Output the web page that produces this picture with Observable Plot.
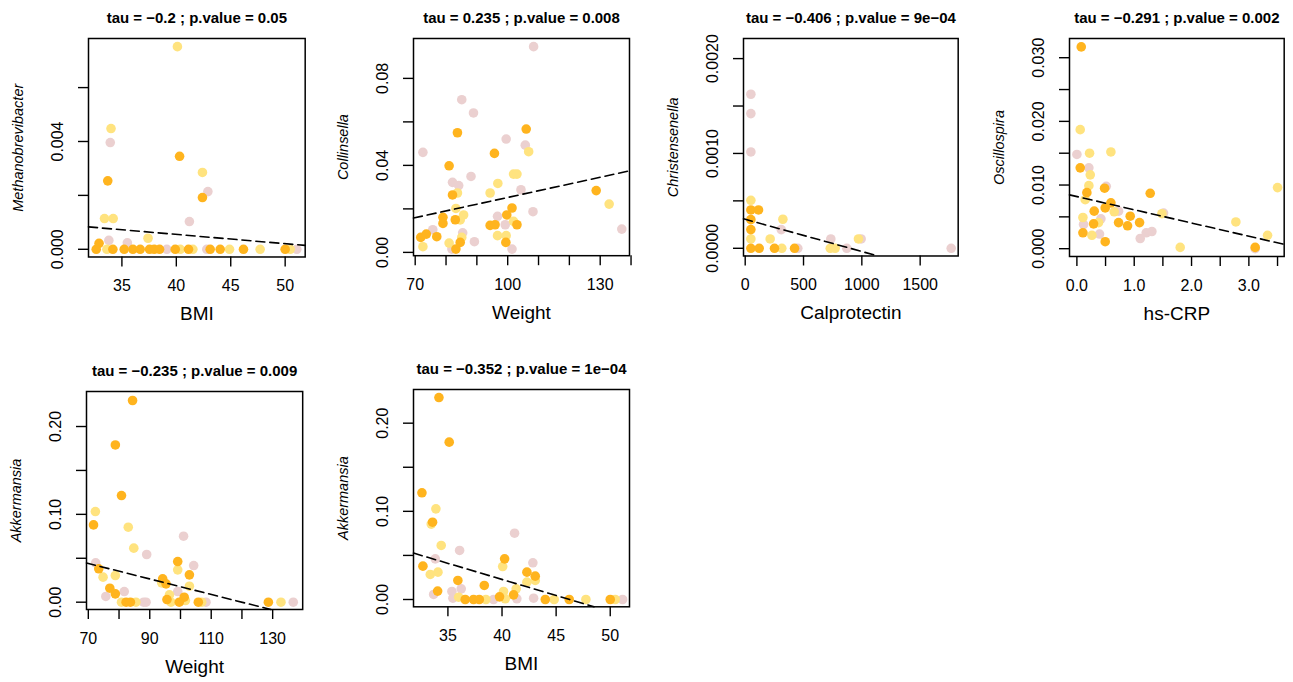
<!DOCTYPE html>
<html><head><meta charset="utf-8">
<script src="https://cdn.jsdelivr.net/npm/d3@7"></script>
<script src="https://cdn.jsdelivr.net/npm/@observablehq/plot@0.6"></script>
<style>
body{margin:0;background:#fff;}
#wrap{position:relative;width:1293px;height:682px;overflow:hidden;background:#fff;font-family:"Liberation Sans",Arial,sans-serif;}
#wrap svg{position:absolute;overflow:visible;}
</style></head><body><div id="wrap"></div>
<script>
// ---------- colours for the three groups ----------
const groupKeys = ["P", "Y", "O"];
const groupColors = ["#EBD0D0", "#FFE37F", "#FFB41E"];

// ---------- Panel 1: Methanobrevibacter vs BMI ----------
const p1Pink = [[33.93,0.00396],[42.9,0.00214],[41.2,0.00103],[33.8,0.00033],[35.5,0.00024],[39.13,0],[42.8,0],[51.07,0]];
const p1Yellow = [[40.1,0.00752],[34.0,0.00448],[42.4,0.00285],[33.4,0.00114],[34.2,0.00114],[37.4,0.00041],[33.62,0],[40.36,0],[41.52,0],[44.89,0],[47.7,0],[50.46,0]];
const p1Orange = [[40.3,0.00345],[33.7,0.00254],[42.4,0.00192],[32.9,0.00022],[32.64,0],[34.17,0],[35.21,0],[36.01,0],[36.68,0],[37.54,0],[37.97,0],[38.46,0],[39.9,0],[41.12,0],[43.11,0],[44.03,0],[46.17,0],[50.0,0]];
const p1Fit = [0.001931, -3.447e-5]; // intercept, slope
const p1XTicks = [35,40,45,50], p1XLabels = ["35","40","45","50"];
const p1YTicks = [0,0.002,0.004,0.006], p1YLabels = ["0.000","","0.004",""];

// ---------- Panel 2: Collinsella vs Weight ----------
const p2Pink = [[108.4,0.0946],[85.1,0.0702],[88.9,0.0641],[99.5,0.0521],[105.7,0.0493],[72.5,0.0460],[88.1,0.0349],[82.1,0.0322],[84.1,0.0307],[104.3,0.0288],[137.0,0.0107],[108.2,0.0187],[96.7,0.0166],[99.2,0.0127],[75.7,0.0104],[85.4,0.0090],[81.9,0.0015],[89.2,0.0049],[101.4,0.0015]];
const p2Yellow = [[106.8,0.0463],[101.9,0.0360],[103.0,0.0360],[96.8,0.0317],[94.3,0.0273],[83.7,0.0273],[132.9,0.0222],[83.2,0.0202],[85.7,0.0172],[84.6,0.0149],[101.9,0.0143],[72.5,0.0026],[85.1,0.0069],[81.0,0.0043],[96.7,0.0077],[99.5,0.0077]];
const p2Orange = [[83.7,0.0550],[106.0,0.0567],[95.7,0.0455],[81.0,0.0398],[82.1,0.0264],[128.7,0.0284],[101.4,0.0204],[79.0,0.0161],[79.0,0.0133],[83.0,0.0150],[99.7,0.0172],[94.3,0.0124],[95.9,0.0127],[103.0,0.0127],[71.8,0.0069],[73.6,0.0084],[77.0,0.0072],[84.6,0.0046],[83.2,0.0015],[99.4,0.0046]];
const p2Fit = [-0.005745, 3.1e-4];
const p2XTicks = [70,80,90,100,110,120,130,140], p2XLabels = ["70","","","100","","","130",""];
const p2YTicks = [0,0.02,0.04,0.06,0.08], p2YLabels = ["0.00","","0.04","","0.08"];

// ---------- Panel 3: Christensenella vs Calprotectin ----------
const p3Pink = [[48.6,0.001624],[48.6,0.00142],[48.6,0.001016],[309,0.000197],[734,0.0000984],[994,0.0000984],[451,0],[871,0],[1766,0]];
const p3Yellow = [[48.6,0.000506],[48.6,0.0000984],[323,0.000306],[214,0.0000984],[314,0],[729,0],[771,0],[971,0.0000984]];
const p3Orange = [[48.6,0.000404],[114,0.000404],[48.6,0.000302],[48.6,0.000197],[48.6,0],[120,0],[251,0],[423,0]];
const p3Fit = [0.000306, -3.40e-7];
const p3XTicks = [0,500,1000,1500], p3XLabels = ["0","500","1000","1500"];
const p3YTicks = [0,0.0005,0.001,0.0015,0.002], p3YLabels = ["0.0000","","0.0010","","0.0020"];

// ---------- Panel 4: Oscillospira vs hs-CRP ----------
const p4Pink = [[0.0,0.0148],[0.209,0.0127],[0.512,0.0098],[0.419,0.0047],[0.727,0.0059],[1.512,0.0056],[0.116,0.0038],[0.395,0.0023],[1.105,0.0016],[1.209,0.0025],[1.308,0.0027],[3.11,0.0]];
const p4Yellow = [[0.058,0.0187],[0.221,0.0150],[0.593,0.0152],[0.233,0.0116],[0.209,0.0099],[0.145,0.0077],[3.5,0.0096],[0.651,0.0058],[0.105,0.0049],[1.483,0.0055],[0.378,0.0041],[0.262,0.0021],[1.802,0.0002],[2.773,0.0042],[3.326,0.0021]];
const p4Orange = [[0.076,0.0317],[0.058,0.0127],[0.483,0.0095],[0.174,0.0088],[1.279,0.0087],[0.593,0.0072],[0.494,0.0064],[0.302,0.0059],[0.93,0.0051],[0.291,0.0039],[0.727,0.0041],[0.884,0.0036],[1.093,0.0041],[0.105,0.0025],[0.494,0.0011],[3.11,0.0002]];
const p4Fit = [0.00819, -0.002077];
const p4XTicks = [0,0.5,1,1.5,2,2.5,3,3.5], p4XLabels = ["0.0","","1.0","","2.0","","3.0",""];
const p4YTicks = [0,0.005,0.01,0.015,0.02,0.025,0.03], p4YLabels = ["0.000","","0.010","","0.020","","0.030"];

// ---------- Panel 5: Akkermansia vs Weight ----------
const p5Pink = [[89.0,0.0543],[101.0,0.0751],[72.4,0.0448],[104.3,0.0417],[81.7,0.0121],[75.7,0.0065],[99.1,0.0121],[88.0,0],[88.8,0],[108.3,0],[136.7,0]];
const p5Yellow = [[72.3,0.1032],[83.0,0.0854],[84.8,0.0615],[99.1,0.0368],[74.8,0.0285],[78.8,0.0304],[93.9,0.0220],[102.9,0.0182],[96.4,0.0083],[101.6,0.0019],[80.8,0],[85.5,0],[96.9,0],[106.9,0],[132.7,0]];
const p5Orange = [[84.4,0.2296],[78.8,0.179],[80.8,0.1214],[71.7,0.088],[99.1,0.0463],[102.9,0.0311],[73.4,0.038],[94.2,0.0266],[95.3,0.0209],[77.0,0.0159],[78.8,0.0095],[101.2,0.0057],[95.6,0.003],[82.3,0],[83.7,0],[99.6,0],[105.8,0],[128.6,0]];
const p5Fit = [0.10585, -8.822e-4];
const p5XTicks = [70,80,90,100,110,120,130], p5XLabels = ["70","","90","","110","","130"];
const p5YTicks = [0,0.05,0.1,0.15,0.2], p5YLabels = ["0.00","","0.10","","0.20"];

// ---------- Panel 6: Akkermansia vs BMI ----------
const p6Pink = [[36.08,0.0556],[41.16,0.0752],[33.83,0.0461],[42.85,0.0416],[35.37,0.0091],[36.23,0.0121],[33.68,0.0057],[41.37,0.0008],[35.46,0.0015],[39.22,0],[42.92,0.0015],[51.14,0]];
const p6Yellow = [[33.89,0.1028],[33.46,0.0855],[34.38,0.0613],[40.06,0.0374],[33.37,0.0284],[34.08,0.031],[42.3,0.0197],[43.07,0.0216],[41.31,0.0121],[40.14,0.0091],[40.3,0.0008],[35.99,0.0026],[38.51,0],[44.82,0],[47.75,0],[50.46,0]];
const p6Orange = [[34.17,0.2291],[35.12,0.1785],[32.6,0.121],[33.58,0.0877],[40.24,0.0461],[32.69,0.0378],[42.3,0.031],[43.07,0.0265],[35.92,0.0216],[38.36,0.0159],[34.05,0.0095],[41.07,0.0053],[39.77,0.003],[36.6,0],[37.37,0],[37.9,0],[44.0,0],[46.21,0],[50.0,0]];
const p6Fit = [0.16888, -3.653e-3];
const p6XTicks = [35,40,45,50], p6XLabels = ["35","40","45","50"];
const p6YTicks = [0,0.05,0.1,0.15,0.2], p6YLabels = ["0.00","","0.10","","0.20"];

const titles = ["tau = −0.2 ; p.value = 0.05","tau = 0.235 ; p.value = 0.008","tau = −0.406 ; p.value = 9e−04","tau = −0.291 ; p.value = 0.002","tau = −0.235 ; p.value = 0.009","tau = −0.352 ; p.value = 1e−04"];
const yNames = ["Methanobrevibacter","Collinsella","Christensenella","Oscillospira","Akkermansia","Akkermansia"];
const xNames = ["BMI","Weight","Calprotectin","hs-CRP","Weight","BMI"];

const panels = [
  {pink:p1Pink,yellow:p1Yellow,orange:p1Orange,fit:p1Fit,xt:p1XTicks,xl:p1XLabels,yt:p1YTicks,yl:p1YLabels,
   box:[88.3,305,37.5,256], xdom:[31.93,51.84], ydom:[-0.000286,0.007822]},
  {pink:p2Pink,yellow:p2Yellow,orange:p2Orange,fit:p2Fit,xt:p2XTicks,xl:p2XLabels,yt:p2YTicks,yl:p2YLabels,
   box:[413.3,629.3,37.8,255], xdom:[69.45,139.5], ydom:[-0.00152,0.09834]},
  {pink:p3Pink,yellow:p3Yellow,orange:p3Orange,fit:p3Fit,xt:p3XTicks,xl:p3XLabels,yt:p3YTicks,yl:p3YLabels,
   box:[743.3,958,37.5,255], xdom:[-14.6,1826], ydom:[-0.0000812,0.002212]},
  {pink:p4Pink,yellow:p4Yellow,orange:p4Orange,fit:p4Fit,xt:p4XTicks,xl:p4XLabels,yt:p4YTicks,yl:p4YLabels,
   box:[1069.3,1284,37.5,255.5], xdom:[-0.129,3.616], ydom:[-0.001225,0.03302]},
  {pink:p5Pink,yellow:p5Yellow,orange:p5Orange,fit:p5Fit,xt:p5XTicks,xl:p5XLabels,yt:p5YTicks,yl:p5YLabels,
   box:[85.5,301.7,391,609], xdom:[69.41,139.77], ydom:[-0.00831,0.23987]},
  {pink:p6Pink,yellow:p6Yellow,orange:p6Orange,fit:p6Fit,xt:p6XTicks,xl:p6XLabels,yt:p6YTicks,yl:p6YLabels,
   box:[413.3,629.3,389,606.3], xdom:[31.82,51.78], ydom:[-0.00828,0.2382]}
];

const wrap = document.getElementById("wrap");
const mL = 100, mT = 40, mR = 14, mB = 80;

panels.forEach((c, k) => {
  const W = c.box[1] - c.box[0], H = c.box[3] - c.box[2];
  const pts = [
    ...c.pink.map(d => ({x: d[0], y: d[1], g: "P"})),
    ...c.yellow.map(d => ({x: d[0], y: d[1], g: "Y"})),
    ...c.orange.map(d => ({x: d[0], y: d[1], g: "O"}))
  ];
  const [a, b] = c.fit;
  const [y0, y1] = c.ydom;
  const end = (x) => {
    let y = a + b * x;
    if (y < y0) { x = (y0 - a) / b; y = y0; }
    if (y > y1) { x = (y1 - a) / b; y = y1; }
    return {x, y};
  };
  const fitLine = [end(c.xdom[0]), end(c.xdom[1])];
  const svg = Plot.plot({
    width: W + mL + mR, height: H + mT + mB,
    marginLeft: mL, marginTop: mT, marginRight: mR, marginBottom: mB,
    style: {background: "transparent", overflow: "visible", color: "black", fontFamily: '"Liberation Sans", Arial, sans-serif'},
    x: {domain: c.xdom, label: null},
    y: {domain: c.ydom, label: null},
    color: {domain: groupKeys, range: groupColors},
    marks: [
      Plot.dot(pts, {x: "x", y: "y", fill: "g", r: 4.8}),
      Plot.line(fitLine, {x: "x", y: "y", stroke: "black", strokeWidth: 1.6, strokeDasharray: "9,5"}),
      Plot.frame({stroke: "black", strokeWidth: 1.5}),
      Plot.axisX({ticks: c.xt, label: null, tickSize: 10, tickPadding: 13, strokeWidth: 1.4, fontSize: 16,
        tickFormat: d => c.xl[c.xt.indexOf(d)]}),
      Plot.axisY({ticks: c.yt, label: null, tickSize: 10, tickPadding: 21, strokeWidth: 1.4, fontSize: 16,
        tickRotate: -90, textAnchor: "middle", lineAnchor: "middle",
        tickFormat: d => c.yl[c.yt.indexOf(d)]}),
      Plot.text([titles[k]], {text: d => d, frameAnchor: "top", dy: -20, fontWeight: "bold", fontSize: 15, lineAnchor: "middle"}),
      Plot.text([yNames[k]], {text: d => d, frameAnchor: "left", dx: -70, rotate: -90, fontStyle: "italic", fontSize: 14.5, textAnchor: "middle", lineAnchor: "middle"}),
      Plot.text([xNames[k]], {text: d => d, frameAnchor: "bottom", dy: 57, fontSize: 19, lineAnchor: "middle"})
    ]
  });
  svg.style.left = (c.box[0] - mL) + "px";
  svg.style.top = (c.box[2] - mT) + "px";
  wrap.appendChild(svg);
});
</script></body></html>
